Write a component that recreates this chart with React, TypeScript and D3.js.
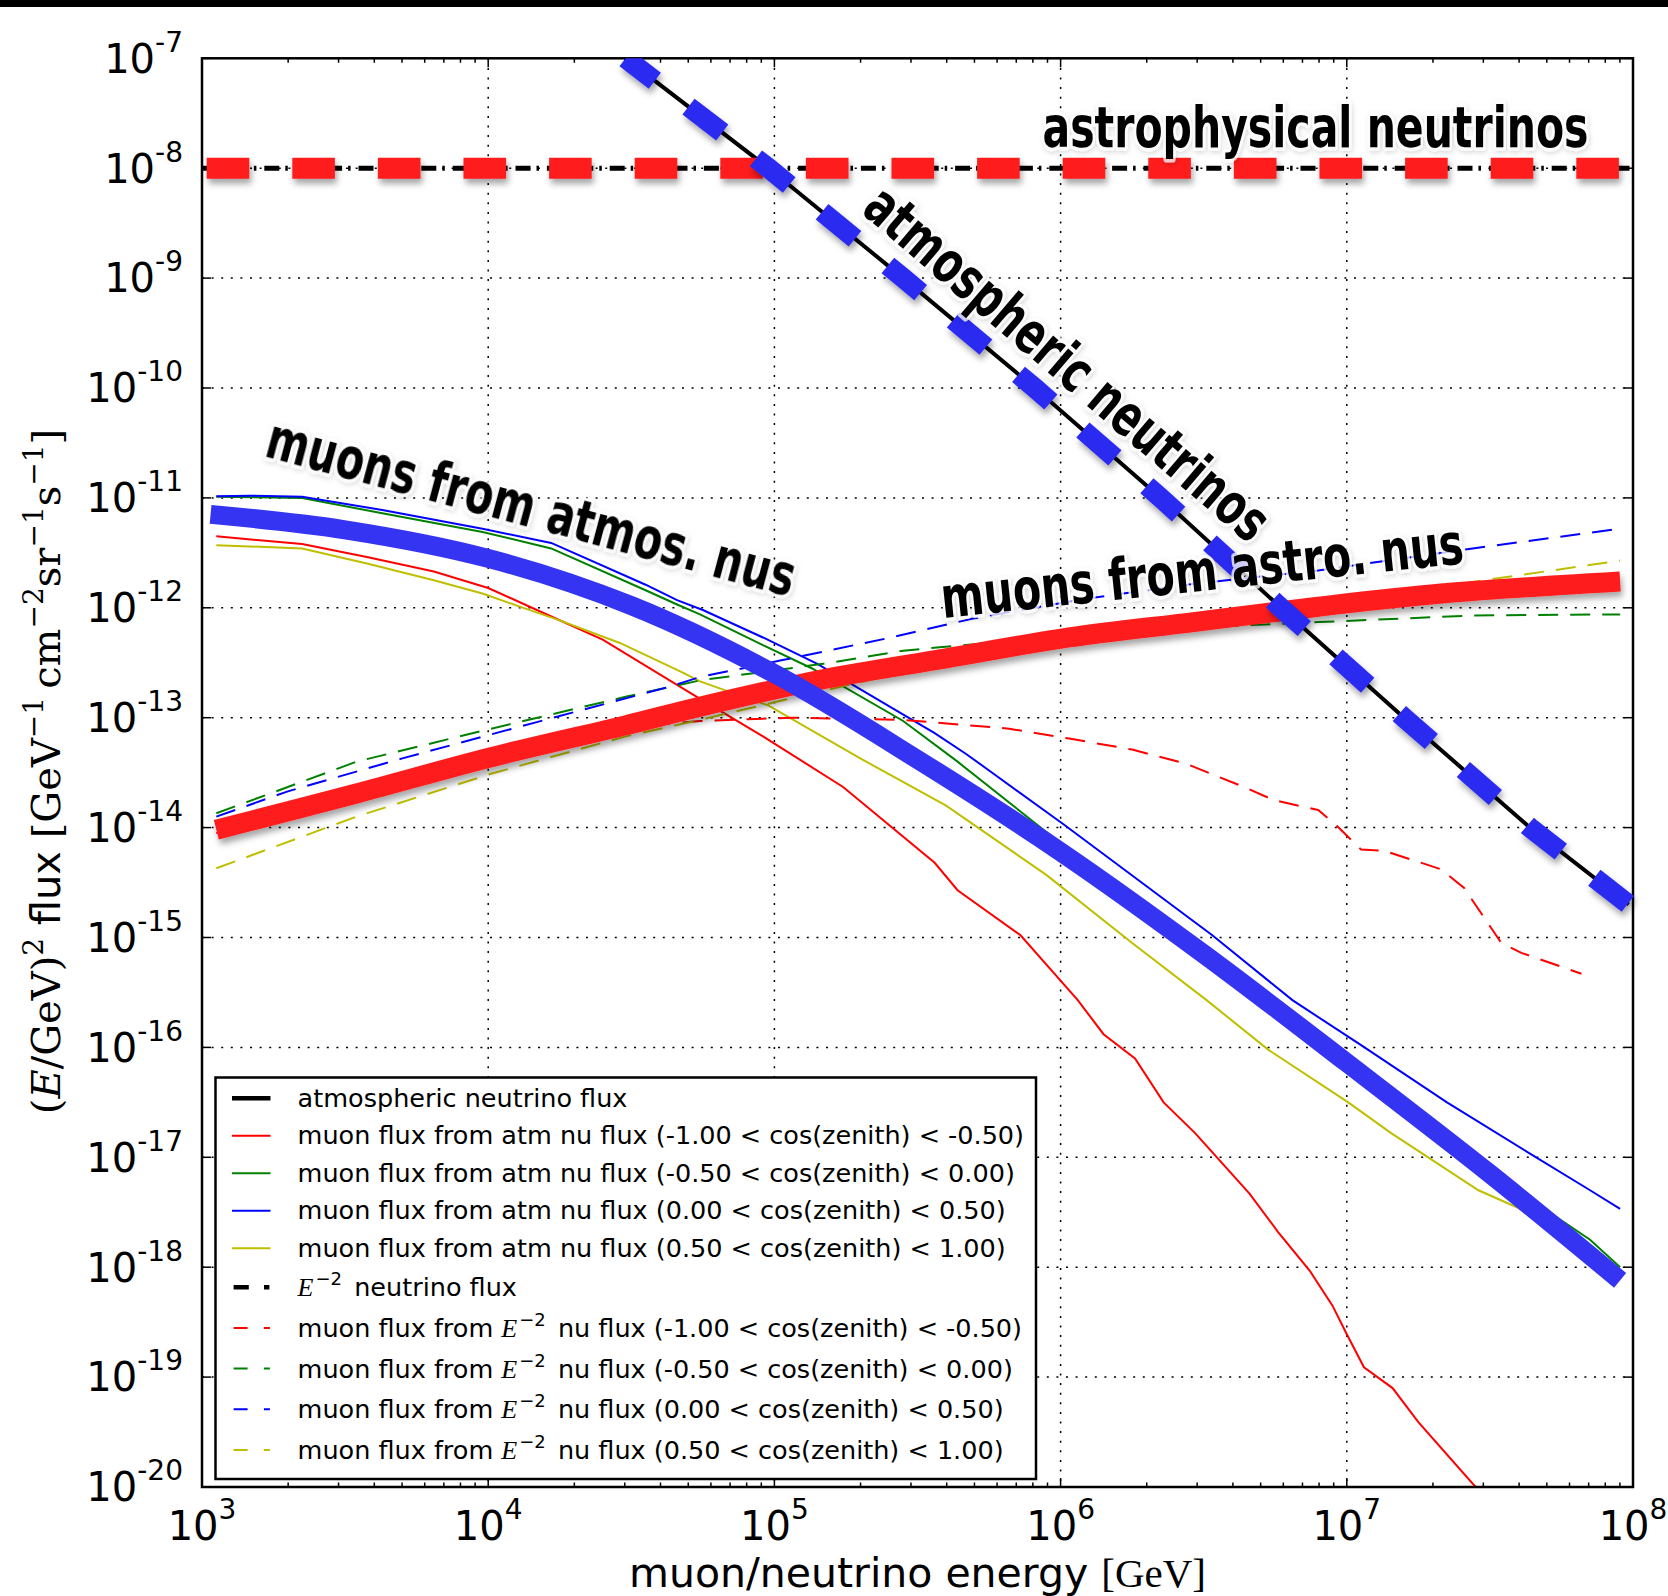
import React from "react";
import * as d3 from "d3";

// ---------------- data (log10 E [GeV], log10 of E^2 flux) ----------------
const xDecades = [3, 4, 5, 6, 7, 8];
const yDecades = [-7, -8, -9, -10, -11, -12, -13, -14, -15, -16, -17, -18, -19, -20];

const atmNuFlux: [number, number][] = [
  [4.48, -7.0], [4.98, -8.0], [5.45, -9.0], [5.91, -10.0], [6.35, -11.0], [6.77, -12.0],
  [7.2, -13.0], [7.64, -14.0], [7.985, -14.7],
];
const e2NuFlux: [number, number][] = [[3.0, -8.0], [8.0, -8.0]];

const muAtmBin1: [number, number][] = [
  [3.05, -11.35], [3.35, -11.42], [3.58, -11.54], [3.81, -11.67], [4.0, -11.82], [4.17, -12.02],
  [4.4, -12.29], [4.71, -12.78], [4.96, -13.17], [5.24, -13.63], [5.56, -14.32], [5.64, -14.57],
  [5.86, -14.98], [6.06, -15.57], [6.15, -15.88], [6.26, -16.1], [6.36, -16.5], [6.47, -16.78],
  [6.66, -17.33], [6.76, -17.68], [6.87, -18.03], [6.95, -18.35], [7.0, -18.61], [7.06, -18.91],
  [7.16, -19.1], [7.25, -19.41], [7.45, -20.0], [7.55, -20.3],
];
const muAtmBin2: [number, number][] = [
  [3.05, -10.99], [3.35, -11.0], [3.63, -11.14], [3.98, -11.31], [4.22, -11.46], [4.55, -11.84],
  [4.66, -11.97], [4.74, -12.06], [4.96, -12.34], [5.13, -12.55], [5.45, -13.03], [5.64, -13.4],
  [5.95, -14.04], [6.23, -14.6], [6.5, -15.12], [6.9, -15.92], [7.25, -16.62], [7.61, -17.33],
  [7.85, -17.75], [7.955, -18.0],
];
const muAtmBin3: [number, number][] = [
  [3.05, -10.985], [3.17, -10.98], [3.35, -10.99], [3.63, -11.11], [3.98, -11.28], [4.22, -11.41],
  [4.55, -11.79], [4.66, -11.93], [4.75, -12.02], [4.96, -12.27], [5.15, -12.51], [5.56, -13.14],
  [5.67, -13.33], [5.75, -13.48], [6.01, -13.97], [6.53, -14.98], [6.81, -15.57], [7.05, -15.98],
  [7.35, -16.5], [7.63, -16.95], [7.85, -17.3], [7.955, -17.47],
];
const muAtmBin4: [number, number][] = [
  [3.05, -11.43], [3.35, -11.46], [3.58, -11.6], [3.81, -11.75], [3.98, -11.87], [4.1, -11.98],
  [4.245, -12.11], [4.46, -12.32], [4.68, -12.59], [4.74, -12.67], [4.98, -12.89], [5.3, -13.37],
  [5.6, -13.8], [5.95, -14.43], [6.25, -15.05], [6.51, -15.57], [6.725, -16.02], [7.005, -16.5],
  [7.155, -16.78], [7.46, -17.3], [7.65, -17.52], [7.8, -17.8], [7.955, -18.06],
];

const muE2Bin1: [number, number][] = [
  [3.05, -14.05], [3.5, -13.72], [4.0, -13.38], [4.5, -13.08], [4.74, -13.03], [5.06, -13.0],
  [5.45, -13.02], [5.82, -13.1], [6.03, -13.19], [6.25, -13.29], [6.44, -13.42], [6.64, -13.63],
  [6.745, -13.75], [6.9, -13.84], [6.96, -13.97], [7.05, -14.2], [7.13, -14.21], [7.33, -14.38],
  [7.41, -14.55], [7.54, -15.05], [7.61, -15.14], [7.82, -15.33],
];
const muE2Bin2: [number, number][] = [
  [3.05, -13.87], [3.54, -13.4], [4.01, -13.1], [4.48, -12.81], [4.74, -12.66], [5.17, -12.51],
  [5.45, -12.39], [6.0, -12.26], [6.4, -12.19], [6.64, -12.16], [6.9, -12.13], [7.44, -12.07],
  [7.955, -12.06],
];
const muE2Bin3: [number, number][] = [
  [3.05, -13.9], [3.3, -13.67], [3.7, -13.37], [4.17, -13.04], [4.63, -12.72], [4.74, -12.63],
  [5.02, -12.48], [5.39, -12.28], [5.69, -12.1], [6.08, -11.92], [6.47, -11.78], [6.9, -11.66],
  [7.44, -11.46], [7.955, -11.28],
];
const muE2Bin4: [number, number][] = [
  [3.05, -14.37], [3.54, -13.9], [4.01, -13.51], [4.48, -13.17], [4.74, -13.02], [5.0, -12.86],
  [5.26, -12.7], [5.6, -12.5], [6.0, -12.3], [6.5, -12.1], [7.0, -11.93], [7.48, -11.75],
  [7.955, -11.57],
];

// highlighted (hand-drawn) bands
const muonsFromAtmos: [number, number][] = [
  [3.03, -11.15], [3.5, -11.29], [4.0, -11.55], [4.5, -11.98], [5.0, -12.6], [5.5, -13.38],
  [6.0, -14.22], [6.5, -15.15], [7.0, -16.14], [7.5, -17.15], [7.955, -18.12],
];
const muonsFromAstro: [number, number][] = [
  [3.05, -14.02], [3.54, -13.69], [4.01, -13.36], [4.48, -13.07], [4.74, -12.9], [5.17, -12.65],
  [5.6, -12.46], [6.03, -12.27], [6.465, -12.13], [6.9, -11.99], [7.33, -11.87], [7.955, -11.76],
];

const zenithBins = [
  "(-1.00 < cos(zenith) < -0.50)",
  "(-0.50 < cos(zenith) < 0.00)",
  "(0.00 < cos(zenith) < 0.50)",
  "(0.50 < cos(zenith) < 1.00)",
];
const binColors = ["#ff0000", "#008000", "#0000ff", "#bfbf00"];

// ---------------- layout ----------------
const W = 1668;
const H = 1596;
const PL = 202, PR = 1633, PT = 58.3, PB = 1487;

const SANS = "'DejaVu Sans', 'Noto Sans', sans-serif";
const SERIF = "'Liberation Serif', 'DejaVu Serif', serif";
const SERIF_WIDE = "'DejaVu Serif', 'Liberation Serif', serif";
const BOLD = "'DejaVu Sans', 'Noto Sans', sans-serif";

const x = d3.scaleLog().domain([1e3, 1e8]).range([PL, PR]);
const y = d3.scaleLog().domain([1e-20, 1e-7]).range([PB, PT]);

const toPx = (d: [number, number]): [number, number] => [x(Math.pow(10, d[0])), y(Math.pow(10, d[1]))];
const line = d3.line<[number, number]>().x((d) => toPx(d)[0]).y((d) => toPx(d)[1]);
const smooth = d3
  .line<[number, number]>()
  .x((d) => toPx(d)[0])
  .y((d) => toPx(d)[1])
  .curve(d3.curveCatmullRom.alpha(0.5));

function arcLengthToY(pts: [number, number][], yTarget: number): number {
  let s = 0;
  for (let i = 1; i < pts.length; i++) {
    const [x0, y0] = pts[i - 1];
    const [x1, y1] = pts[i];
    const seg = Math.hypot(x1 - x0, y1 - y0);
    if ((y0 - yTarget) * (y1 - yTarget) <= 0 && y1 !== y0) {
      return s + ((yTarget - y0) / (y1 - y0)) * seg;
    }
    s += seg;
  }
  return s;
}

const supStyle = { fontSize: 28 };

const annotations = [
  { text: "astrophysical neutrinos", x: 1042.5, y: 146.7, angle: 0, len: 546 },
  { text: "atmospheric neutrinos", x: 860, y: 212, angle: 40.5, len: 512 },
  { text: "muons from atmos. nus", x: 263, y: 456, angle: 15, len: 545 },
  { text: "muons from astro. nus", x: 943, y: 618, angle: -6, len: 525 },
];

export default function App() {
  const atmPx = atmNuFlux.map(toPx);
  const P = 85;
  const D = 42.5;
  const sStar = arcLengthToY(atmPx, y(1e-10));
  const blueOffset = (((D / 2 - sStar) % P) + P) % P;

  const thinSolid = [muAtmBin1, muAtmBin2, muAtmBin3, muAtmBin4];
  const thinDashed = [muE2Bin1, muE2Bin2, muE2Bin3, muE2Bin4];

  const minorTicks: number[] = [];
  for (let e = 3; e < 8; e++) for (let k = 2; k <= 9; k++) minorTicks.push(k * Math.pow(10, e));

  // legend rows
  const rowY: number[] = [];
  let yy = 1098.3;
  for (let i = 0; i < 10; i++) {
    rowY.push(yy);
    if (i < 4) yy += 37.5;
    else if (i === 4) yy += 38.9;
    else yy += 40.7;
  }
  const hx0 = 232, hx1 = 270.5, tx = 297.6;

  const halo = {
    paintOrder: "stroke" as const,
    stroke: "#ffffff",
    strokeOpacity: 0.75,
    strokeWidth: 5,
    strokeLinejoin: "round" as const,
  };

  const E2 = () => (
    <>
      <tspan fontFamily={SERIF} fontStyle="italic" fontSize={26}>E</tspan>
      <tspan fontFamily={SANS} fontSize={18} dx={2} dy={-11}>{"\u22122"}</tspan>
    </>
  );

  return (
    <div style={{ position: "absolute", left: 0, top: 0, width: W, height: H, background: "#fff" }}>
      <svg width={W} height={H} style={{ display: "block" }}>
        <defs>
          <clipPath id="plotClip">
            <rect x={PL} y={PT} width={PR - PL} height={PB - PT} />
          </clipPath>
          <clipPath id="overlayClip">
            <rect x={PL} y={PT} width={W - PL} height={H - PT} />
          </clipPath>
          <filter id="shadow" filterUnits="userSpaceOnUse" x={0} y={0} width={W} height={H}>
            <feDropShadow dx={2} dy={5} stdDeviation={3} floodColor="#000" floodOpacity={0.35} />
          </filter>
          <filter id="textShadow" filterUnits="userSpaceOnUse" x={0} y={0} width={W} height={H}>
            <feDropShadow dx={1} dy={2} stdDeviation={2.5} floodColor="#000" floodOpacity={0.18} />
          </filter>
        </defs>

        <rect x={0} y={0} width={W} height={H} fill="#fff" />
        <rect x={0} y={0} width={W} height={7} fill="#000" />

        {/* grid */}
        <g stroke="#000" strokeWidth={1.5} strokeDasharray="2,7.6" fill="none">
          {xDecades.slice(1, -1).map((e) => (
            <line key={"gx" + e} x1={x(Math.pow(10, e))} x2={x(Math.pow(10, e))} y1={PT} y2={PB} />
          ))}
          {yDecades.slice(1, -1).map((e) => (
            <line key={"gy" + e} x1={PL} x2={PR} y1={y(Math.pow(10, e))} y2={y(Math.pow(10, e))} />
          ))}
        </g>

        {/* ticks */}
        <g stroke="#000" strokeWidth={1.5}>
          {xDecades.map((e) => {
            const xx = x(Math.pow(10, e));
            return (
              <g key={"tx" + e}>
                <line x1={xx} x2={xx} y1={PB} y2={PB - 9} />
                <line x1={xx} x2={xx} y1={PT} y2={PT + 9} />
              </g>
            );
          })}
          {minorTicks.map((v) => (
            <g key={"mx" + v}>
              <line x1={x(v)} x2={x(v)} y1={PB} y2={PB - 4.5} />
              <line x1={x(v)} x2={x(v)} y1={PT} y2={PT + 4.5} />
            </g>
          ))}
          {yDecades.map((e) => {
            const v = y(Math.pow(10, e));
            return (
              <g key={"ty" + e}>
                <line x1={PL} x2={PL + 9} y1={v} y2={v} />
                <line x1={PR} x2={PR - 9} y1={v} y2={v} />
              </g>
            );
          })}
        </g>

        {/* matplotlib curves */}
        <g clipPath="url(#plotClip)" fill="none">
          <path d={line(atmNuFlux) || ""} stroke="#000" strokeWidth={4} />
          {thinSolid.map((s, i) => (
            <path key={"s" + i} d={line(s) || ""} stroke={binColors[i]} strokeWidth={2} />
          ))}
          <path
            d={line(e2NuFlux) || ""}
            stroke="#000"
            strokeWidth={5}
            strokeDasharray="15,6,2.5,7.9"
            strokeDashoffset={0.5}
          />
          {thinDashed.map((s, i) => (
            <path
              key={"d" + i}
              d={line(s) || ""}
              stroke={binColors[i]}
              strokeWidth={2}
              strokeDasharray="20,12"
            />
          ))}
        </g>

        {/* frame */}
        <rect x={PL} y={PT} width={PR - PL} height={PB - PT} fill="none" stroke="#000" strokeWidth={2.5} />

        {/* legend */}
        <g>
          <rect x={215.5} y={1077.5} width={820.5} height={401.5} fill="#fff" stroke="#000" strokeWidth={2.5} />
          <line x1={hx0} x2={hx1} y1={rowY[0]} y2={rowY[0]} stroke="#000" strokeWidth={4.5} />
          {zenithBins.map((z, i) => (
            <line key={"lh" + i} x1={hx0} x2={hx1} y1={rowY[i + 1]} y2={rowY[i + 1]} stroke={binColors[i]} strokeWidth={2} />
          ))}
          <line
            x1={233.6}
            x2={270}
            y1={rowY[5]}
            y2={rowY[5]}
            stroke="#000"
            strokeWidth={4.5}
            strokeDasharray="15.2,15.2,5.4,20"
          />
          {zenithBins.map((z, i) => (
            <line
              key={"ld" + i}
              x1={233.6}
              x2={270}
              y1={rowY[i + 6]}
              y2={rowY[i + 6]}
              stroke={binColors[i]}
              strokeWidth={2}
              strokeDasharray="14,16.3,6,20"
            />
          ))}
          <g fontFamily={SANS} fontSize={25.5} fill="#000" style={{ whiteSpace: "pre" }}>
            <text x={tx} y={rowY[0] + 8.5}>atmospheric neutrino flux</text>
            {zenithBins.map((z, i) => (
              <text key={"lt" + i} x={tx} y={rowY[i + 1] + 8.5}>
                {"muon flux from atm nu flux " + z}
              </text>
            ))}
            <text x={tx} y={rowY[5] + 9}>
              <E2 />
              <tspan dx={4} dy={11}>{" neutrino flux"}</tspan>
            </text>
            {zenithBins.map((z, i) => (
              <text key={"le" + i} x={tx} y={rowY[i + 6] + 9}>
                {"muon flux from "}
                <E2 />
                <tspan dx={4} dy={11}>{" nu flux " + z}</tspan>
              </text>
            ))}
          </g>
        </g>

        {/* tick labels */}
        <g fontFamily={SANS} fontSize={40} fill="#000">
          {xDecades.map((e) => (
            <text key={"xl" + e} x={x(Math.pow(10, e))} y={1540} textAnchor="middle">
              10<tspan style={supStyle} dy={-21}>{String(e)}</tspan>
            </text>
          ))}
          {yDecades.map((e) => (
            <text key={"yl" + e} x={183} y={y(Math.pow(10, e)) + 14.3} textAnchor="end">
              10<tspan style={supStyle} dy={-21}>{String(e)}</tspan>
            </text>
          ))}
        </g>

        {/* axis labels */}
        <text x={917.5} y={1587} textAnchor="middle" fontSize={41} style={{ whiteSpace: "pre" }}>
          <tspan fontFamily={SANS}>{"muon/neutrino energy "}</tspan>
          <tspan fontFamily={SERIF}>[GeV]</tspan>
        </text>
        <text
          transform="translate(60,771.5) rotate(-90)"
          textAnchor="middle"
          fontSize={40}
          fontFamily={SERIF_WIDE}
          style={{ whiteSpace: "pre" }}
        >
          <tspan>(</tspan>
          <tspan fontStyle="italic">E</tspan>
          <tspan>/GeV)</tspan>
          <tspan fontSize={28} dy={-17}>2</tspan>
          <tspan fontFamily={SANS} dy={17}>{" flux "}</tspan>
          <tspan>[GeV</tspan>
          <tspan fontSize={28} dy={-17}>{"\u22121"}</tspan>
          <tspan dy={17}>{"\u2009cm"}</tspan>
          <tspan fontSize={28} dy={-17}>{"\u22122"}</tspan>
          <tspan dy={17}>sr</tspan>
          <tspan fontSize={28} dy={-17}>{"\u22121"}</tspan>
          <tspan dy={17}>s</tspan>
          <tspan fontSize={28} dy={-17}>{"\u22121"}</tspan>
          <tspan dy={17}>]</tspan>
        </text>

        {/* overlays */}
        <g fill="none">
          <path d={smooth(muonsFromAstro) || ""} stroke="#ff1c1c" strokeWidth={20} filter="url(#shadow)" />
          <path d={smooth(muonsFromAtmos) || ""} stroke="#3434f2" strokeWidth={19} />
          <path
            d={line(e2NuFlux) || ""}
            stroke="#ff1c1c"
            strokeWidth={21}
            strokeDasharray={`42.6,43`}
            strokeDashoffset={85.6 - 4.7}
            filter="url(#shadow)"
          />
          <g clipPath="url(#overlayClip)">
            <path
              d={line(atmNuFlux) || ""}
              stroke="#2a2af0"
              strokeWidth={20}
              strokeDasharray={`${D},${P - D}`}
              strokeDashoffset={blueOffset}
              filter="url(#shadow)"
            />
          </g>
        </g>

        {/* annotations */}
        <g fontFamily={BOLD} fontWeight="bold" fontSize={41} fill="#000" filter="url(#textShadow)">
          {annotations.map((a) => (
            <text
              key={a.text}
              transform={`translate(${a.x},${a.y}) rotate(${a.angle}) scale(1,1.4)`}
              textLength={a.len}
              lengthAdjust="spacingAndGlyphs"
              style={halo}
            >
              {a.text}
            </text>
          ))}
        </g>
      </svg>
    </div>
  );
}
